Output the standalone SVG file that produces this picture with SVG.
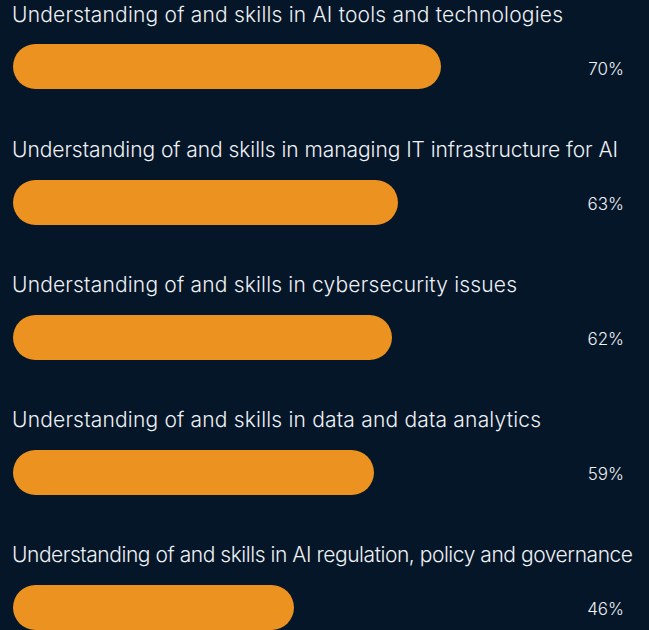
<svg xmlns="http://www.w3.org/2000/svg" width="649" height="630" viewBox="0 0 649 630">
<style>
.lbl{font-family:Inter,"Liberation Sans",sans-serif;font-size:21px;font-weight:300;fill:#eef1f5}
.pct{font-family:Inter,"Liberation Sans",sans-serif;font-size:17px;font-weight:300;fill:#eef1f5;text-anchor:end}
.bar{fill:#eb9220}
</style>
<rect width="649" height="630" fill="#051628"/>
<g id="row1"><text class="lbl" x="12" y="22" textLength="551" lengthAdjust="spacing">Understanding of and skills in AI tools and technologies</text><rect class="bar" x="13" y="44" width="428" height="45" rx="22.5"/><text class="pct" x="624" y="75">70%</text></g>
<g id="row2"><text class="lbl" x="12" y="157" textLength="606" lengthAdjust="spacing">Understanding of and skills in managing IT infrastructure for AI</text><rect class="bar" x="13" y="180" width="385" height="45" rx="22.5"/><text class="pct" x="624" y="210">63%</text></g>
<g id="row3"><text class="lbl" x="12" y="292" textLength="505" lengthAdjust="spacing">Understanding of and skills in cybersecurity issues</text><rect class="bar" x="13" y="315" width="379" height="45" rx="22.5"/><text class="pct" x="624" y="345">62%</text></g>
<g id="row4"><text class="lbl" x="12" y="427" textLength="529" lengthAdjust="spacing">Understanding of and skills in data and data analytics</text><rect class="bar" x="13" y="450" width="361" height="45" rx="22.5"/><text class="pct" x="624" y="480">59%</text></g>
<g id="row5"><text class="lbl" x="12" y="562" textLength="621" lengthAdjust="spacing">Understanding of and skills in AI regulation, policy and governance</text><rect class="bar" x="13" y="585" width="281" height="45" rx="22.5"/><text class="pct" x="624" y="615">46%</text></g>
</svg>
